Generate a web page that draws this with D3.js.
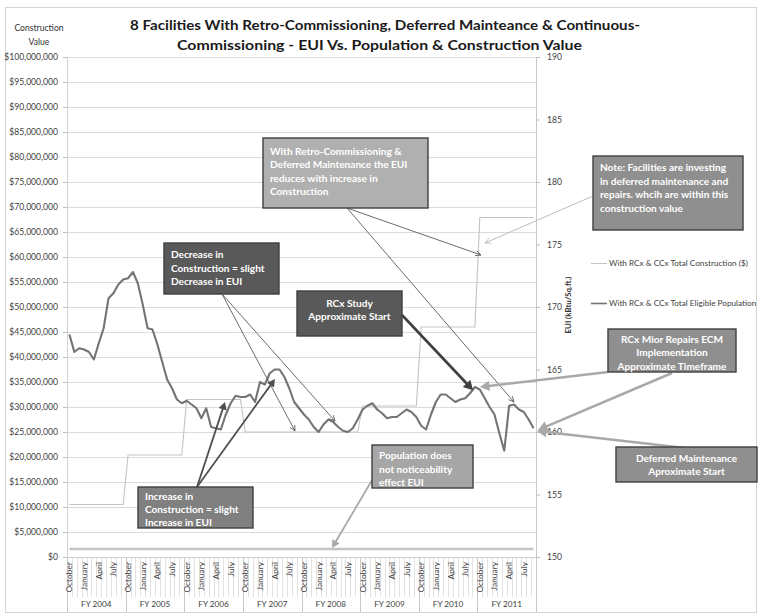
<!DOCTYPE html>
<html>
<head>
<meta charset="utf-8">
<script src="https://cdn.jsdelivr.net/npm/d3@7"></script>
<style>
  body { margin: 0; background: #ffffff; }
  svg text { font-family: Lato, "Noto Sans", "DejaVu Sans", sans-serif; }
</style>
</head>
<body>
<svg id="chart" width="761" height="616"></svg>
<script>
// ---- Data -------------------------------------------------------------
const fiscalYears = ["FY 2004", "FY 2005", "FY 2006", "FY 2007", "FY 2008", "FY 2009", "FY 2010", "FY 2011"];
const monthNames = ["October", "November", "December", "January", "February", "March",
                    "April", "May", "June", "July", "August", "September"];
const labelledMonths = ["October", "January", "April", "July"];

// Total construction value per fiscal year ($)
const constructionByYear = [10500000, 20400000, 31500000, 25000000, 25000000, 30200000, 46000000, 67900000];
// Total eligible population per fiscal year (plotted on the primary axis)
const populationByYear = [1600000, 1600000, 1600000, 1600000, 1600000, 1600000, 1600000, 1600000];
// Monthly EUI (kBtu/Sq.ft.), October 2003 – September 2011
const euiMonthly = [
  167.8, 166.4, 166.7, 166.6, 166.4, 165.8, 167.1, 168.3, 170.7, 171.1, 171.8, 172.2,
  172.3, 172.8, 171.9, 170.2, 168.3, 168.2, 167.0, 165.6, 164.2, 163.5, 162.6, 162.3,
  162.5, 162.2, 161.9, 161.1, 161.9, 160.4, 160.3, 160.2, 161.4, 162.3, 162.9, 162.8,
  162.8, 163.0, 162.4, 164.0, 163.8, 164.7, 165.0, 165.0, 164.4, 163.5, 162.4, 161.9,
  161.4, 161.0, 160.4, 160.0, 160.6, 161.0, 160.8, 160.4, 160.1, 160.0, 160.3, 161.0,
  161.8, 162.1, 162.3, 161.8, 161.5, 161.1, 161.2, 161.2, 161.5, 161.8, 161.6, 161.2,
  160.5, 160.2, 161.4, 162.4, 163.0, 163.0, 162.7, 162.4, 162.6, 162.7, 163.1, 163.6,
  163.4, 162.7, 162.0, 161.4, 159.9, 158.5, 162.1, 162.2, 161.8, 161.6, 161.0, 160.3
];

const leftTickValues = [0, 5000000, 10000000, 15000000, 20000000, 25000000, 30000000, 35000000,
  40000000, 45000000, 50000000, 55000000, 60000000, 65000000, 70000000, 75000000, 80000000,
  85000000, 90000000, 95000000, 100000000];
const rightTickValues = [150, 155, 160, 165, 170, 175, 180, 185, 190];

const titleLines = [
  "8 Facilities With Retro-Commissioning, Deferred Mainteance & Continuous-",
  "Commissioning - EUI Vs. Population & Construction Value"
];
const legendLabels = [
  "With RCx & CCx Total Construction ($)",
  "With RCx & CCx Total Eligible Population"
];

// ---- Table ------------------------------------------------------------
const rows = fiscalYears.flatMap((fy, fi) => monthNames.map((m, mi) => ({
  key: fy + "|" + m,
  fy, month: m, fi, mi,
  construction: constructionByYear[fi],
  population: populationByYear[fi],
  eui: euiMonthly[fi * 12 + mi]
})));

// ---- Layout -----------------------------------------------------------
const plot = { left: 67, right: 536, top: 57, bottom: 557 };
const svg = d3.select("#chart");

const x = d3.scaleBand().domain(rows.map(d => d.key)).range([plot.left, plot.right]).paddingInner(0).paddingOuter(0);
const cx = key => x(key) + x.bandwidth() / 2;
const yLeft = d3.scaleLinear().domain([0, 100000000]).range([plot.bottom, plot.top]);
const yRight = d3.scaleLinear().domain([150, 190]).range([plot.bottom, plot.top]);

// Outer frame
svg.append("rect").attr("x", 5.5).attr("y", 7.5).attr("width", 751).attr("height", 605)
  .attr("fill", "#ffffff").attr("stroke", "#d4d4d4").attr("stroke-width", 1);

// Gridlines
svg.append("g")
  .selectAll("line").data(leftTickValues.filter(v => v > 0)).join("line")
  .attr("x1", plot.left).attr("x2", plot.right)
  .attr("y1", d => Math.round(yLeft(d)) + 0.5).attr("y2", d => Math.round(yLeft(d)) + 0.5)
  .attr("stroke", "#dcdcdc").attr("stroke-width", 1);

// Left axis
const leftAxis = svg.append("g").attr("transform", `translate(${plot.left},0)`)
  .call(d3.axisLeft(yLeft).tickValues(leftTickValues).tickSize(4).tickPadding(5)
    .tickFormat(d => "$" + d3.format(",")(d)));
leftAxis.select(".domain").attr("stroke", "#d0d0d0");
leftAxis.selectAll(".tick line").attr("stroke", "#bfbfbf");
leftAxis.selectAll(".tick text").attr("fill", "#404040").style("font-size", "8.6px");

// Right axis
const rightAxis = svg.append("g").attr("transform", `translate(${plot.right},0)`)
  .call(d3.axisRight(yRight).tickValues(rightTickValues).tickSize(4).tickPadding(7));
rightAxis.select(".domain").attr("stroke", "#c8c8c8");
rightAxis.selectAll(".tick line").attr("stroke", "#bfbfbf");
rightAxis.selectAll(".tick text").attr("fill", "#404040").style("font-size", "8.6px");

// Category axis: month boundaries, month labels, fiscal-year groups
const xAxis = svg.append("g");
xAxis.selectAll("line.m").data(rows).join("line").attr("class", "m")
  .attr("x1", d => Math.round(x(d.key)) + 0.5).attr("x2", d => Math.round(x(d.key)) + 0.5)
  .attr("y1", plot.bottom).attr("y2", d => d.mi === 0 ? 612 : 597)
  .attr("stroke", d => d.mi === 0 ? "#c8c8c8" : "#e2e2e2").attr("stroke-width", 1);
xAxis.append("line").attr("x1", plot.right + 0.5).attr("x2", plot.right + 0.5)
  .attr("y1", plot.bottom).attr("y2", 612).attr("stroke", "#c8c8c8");
xAxis.append("line").attr("x1", plot.left).attr("x2", plot.right)
  .attr("y1", plot.bottom + 0.5).attr("y2", plot.bottom + 0.5).attr("stroke", "#d0d0d0");
xAxis.selectAll("text.m").data(rows.filter(d => labelledMonths.includes(d.month))).join("text")
  .attr("class", "m")
  .attr("transform", d => `translate(${cx(d.key) + 3},${plot.bottom + 5}) rotate(-90)`)
  .attr("text-anchor", "end").attr("fill", "#404040").style("font-size", "8.4px")
  .text(d => d.month);
xAxis.selectAll("text.fy").data(fiscalYears).join("text").attr("class", "fy")
  .attr("x", (d, i) => (x(d + "|October") + x(d + "|September") + x.bandwidth()) / 2)
  .attr("y", 607).attr("text-anchor", "middle").attr("fill", "#404040").style("font-size", "8.2px")
  .text(d => d);

// Series
const lineConstruction = d3.line().x(d => cx(d.key)).y(d => yLeft(d.construction));
const linePopulation = d3.line().x(d => cx(d.key)).y(d => yLeft(d.population));
const lineEui = d3.line().x(d => cx(d.key)).y(d => yRight(d.eui));

svg.append("path").datum(rows).attr("d", lineConstruction)
  .attr("fill", "none").attr("stroke", "#c4c4c4").attr("stroke-width", 1.1);
svg.append("path").datum(rows).attr("d", linePopulation)
  .attr("fill", "none").attr("stroke", "#c4c4c4").attr("stroke-width", 2.6);
svg.append("path").datum(rows).attr("d", lineEui)
  .attr("fill", "none").attr("stroke", "#747474").attr("stroke-width", 2.1).attr("stroke-linejoin", "round");

// Right axis title
svg.append("text").attr("transform", "translate(571,305) rotate(-90)")
  .attr("text-anchor", "middle").attr("font-weight", "bold").attr("fill", "#333")
  .style("font-size", "7.8px").text("EUI (kBtu/Sq.ft.)");

// Left axis title
svg.append("g").selectAll("text").data(["Construction", "Value"]).join("text")
  .attr("x", 39).attr("y", (d, i) => 31 + i * 14).attr("text-anchor", "middle")
  .attr("fill", "#333").style("font-size", "8.6px").text(d => d);

// Chart title
svg.append("g").selectAll("text").data(titleLines).join("text")
  .attr("x", (d, i) => i === 0 ? 385 : 379.5).attr("y", (d, i) => 30 + i * 20)
  .attr("text-anchor", "middle").attr("font-weight", "bold").attr("fill", "#1a1a1a")
  .style("font-size", "14px")
  .attr("textLength", (d, i) => i === 0 ? 510 : 405).attr("lengthAdjust", "spacingAndGlyphs")
  .text(d => d);

// Legend
const legend = svg.append("g");
legend.selectAll("line").data(legendLabels).join("line")
  .attr("x1", 591).attr("x2", 607)
  .attr("y1", (d, i) => i === 0 ? 263.5 : 303.5).attr("y2", (d, i) => i === 0 ? 263.5 : 303.5)
  .attr("stroke", (d, i) => i === 0 ? "#c4c4c4" : "#747474").attr("stroke-width", (d, i) => i === 0 ? 1.1 : 1.6);
legend.selectAll("text").data(legendLabels).join("text")
  .attr("x", 609).attr("y", (d, i) => (i === 0 ? 263.5 : 303.5) + 2.9)
  .attr("fill", "#404040").style("font-size", "8.2px").text(d => d);

// ---- Annotations ------------------------------------------------------
const notes = svg.append("g");

function arrow(x1, y1, x2, y2, color, width, head) {
  const ang = Math.atan2(y2 - y1, x2 - x1);
  const g = notes.append("g");
  if (head === "open") {
    const L = 6, a = 0.45;
    g.append("line").attr("x1", x1).attr("y1", y1).attr("x2", x2).attr("y2", y2)
      .attr("stroke", color).attr("stroke-width", width);
    const p1 = [x2 - L * Math.cos(ang - a), y2 - L * Math.sin(ang - a)];
    const p2 = [x2 - L * Math.cos(ang + a), y2 - L * Math.sin(ang + a)];
    g.append("path").attr("d", `M${p1}L${x2},${y2}L${p2}`)
      .attr("fill", "none").attr("stroke", color).attr("stroke-width", width);
  } else {
    const L = 4 + width * 2.6, a = 0.5;
    const bx = x2 - (L * 0.8) * Math.cos(ang), by = y2 - (L * 0.8) * Math.sin(ang);
    g.append("line").attr("x1", x1).attr("y1", y1).attr("x2", bx).attr("y2", by)
      .attr("stroke", color).attr("stroke-width", width);
    const p1 = [x2 - L * Math.cos(ang - a), y2 - L * Math.sin(ang - a)];
    const p2 = [x2 - L * Math.cos(ang + a), y2 - L * Math.sin(ang + a)];
    g.append("path").attr("d", `M${p1}L${x2},${y2}L${p2}Z`).attr("fill", color);
  }
}

function box(x0, y0, w, h, fill, lines, align, y1, step) {
  notes.append("rect").attr("x", x0).attr("y", y0).attr("width", w).attr("height", h)
    .attr("fill", fill).attr("stroke", "#3f3f3f").attr("stroke-width", 1.4);
  notes.append("g").selectAll("text").data(lines).join("text")
    .attr("x", align === "middle" ? x0 + w / 2 : x0 + 7)
    .attr("y", (d, i) => y1 + i * step)
    .attr("text-anchor", align === "middle" ? "middle" : "start")
    .attr("fill", "#ffffff").attr("font-weight", "bold").style("font-size", "10.1px")
    .text(d => d);
}

const thin = "#5a5a5a", light = "#a9a9a9";

// Arrows first so boxes sit on top
arrow(347, 208, 481, 255, thin, 0.9, "open");
arrow(347, 208, 514, 402, thin, 0.9, "open");
arrow(593, 196, 485, 243, "#b4b4b4", 0.9, "open");
arrow(222, 294, 295, 431, thin, 0.9, "open");
arrow(222, 294, 335, 421, thin, 0.9, "open");
arrow(402, 315, cx(rows[82].key) + 3, yRight(rows[82].eui) - 3, "#404040", 2.6, "solid");
arrow(608, 372, 480, 387, light, 2.6, "solid");
arrow(672, 373, 538, 430, light, 2.6, "solid");
arrow(685, 448, 537, 431, light, 2.6, "solid");
arrow(197, 487, 225, 402, "#4f4f4f", 1.8, "solid");
arrow(197, 487, 275, 379, "#4f4f4f", 1.8, "solid");
arrow(378, 470, 332, yLeft(populationByYear[4]) - 1, light, 1.8, "solid");

box(263, 138, 165, 70, "#b0b0b0",
  ["With Retro-Commissioning &", "Deferred Maintenance the EUI", "reduces with increase in", "Construction"],
  "start", 154.5, 13.6);
box(593, 156, 150, 74, "#8f8f8f",
  ["Note: Facilities are investing", "in deferred maintenance and", "repairs. whcih are within this", "construction value"],
  "start", 171, 13.5);
box(164, 243, 115, 51, "#595959",
  ["Decrease in", "Construction = slight", "Decrease in EUI"], "start", 258, 13.5);
box(297, 291, 105, 45, "#595959",
  ["RCx Study", "Approximate Start"], "middle", 306.5, 13.5);
box(608, 329, 128, 43, "#8f8f8f",
  ["RCx Mior Repairs ECM", "Implementation", "Approximate Timeframe"], "middle", 343, 13.3);
box(616, 447, 141, 35, "#8f8f8f",
  ["Deferred Maintenance", "Aproximate Start"], "middle", 461.5, 13.5);
box(138, 487, 115, 41, "#808080",
  ["Increase in", "Construction = slight", "Increase in EUI"], "start", 499.5, 13);
box(372, 445, 101, 43, "#a6a6a6",
  ["Population does", "not noticeability", "effect EUI"], "start", 459, 13.5);
</script>
</body>
</html>
